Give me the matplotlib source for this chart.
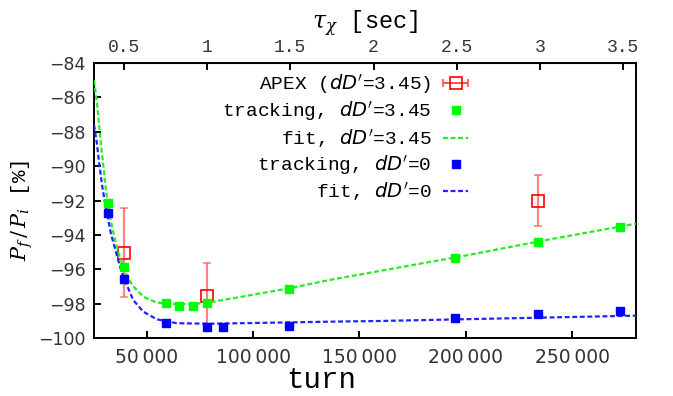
import numpy as np
import matplotlib
matplotlib.use("Agg")
import matplotlib.pyplot as plt
from matplotlib.ticker import FuncFormatter, FixedLocator
from matplotlib.legend_handler import HandlerErrorbar

# turns per second (top axis conversion)
TURNS_PER_SEC = 78300.0

# APEX measurement, dD'=3.45
apex_turn = np.array([39100, 78100, 233800])
apex_p = np.array([-95.03, -97.54, -92.01])
apex_err = np.array([2.6, 1.9, 1.5])

# tracking, dD'=3.45
trk345_turn = np.array([31800, 39100, 59000, 65100, 71700, 78100, 117000, 195100, 233800, 272700])
trk345_p = np.array([-92.13, -95.85, -97.98, -98.12, -98.12, -97.98, -97.15, -95.33, -94.40, -93.52])

# tracking, dD'=0
trk0_turn = np.array([31500, 39100, 59000, 78100, 85600, 117000, 195100, 233800, 272700])
trk0_p = np.array([-92.71, -96.55, -99.11, -99.38, -99.38, -99.30, -98.82, -98.62, -98.41])

# fit curves
fit345_turn = np.array([25100, 26500, 27600, 28500, 29700, 30700, 31800, 33000, 35000, 37000,
                        39100, 41000, 43600, 48300, 54600, 62000, 70000, 78000, 100000,
                        117300, 136100, 200000, 240000, 280100])
fit345_p = np.array([-85.0, -86.35, -87.7, -88.9, -90.2, -91.4, -92.3, -93.2, -94.3, -95.2,
                     -95.9, -96.5, -97.0, -97.6, -97.94, -98.02, -98.02, -97.96, -97.48,
                     -97.1, -96.62, -95.2, -94.25, -93.35])
fit0_turn = np.array([25100, 26500, 27600, 28900, 30200, 31500, 33000, 35000, 37000, 39100,
                      43600, 48300, 54600, 64000, 80000, 136100, 159600, 280100])
fit0_p = np.array([-87.6, -88.7, -89.9, -91.1, -92.1, -92.9, -93.9, -94.8, -95.7, -96.5,
                   -97.8, -98.47, -98.91, -99.14, -99.17, -99.05, -99.01, -98.70])

yticks = np.arange(-100, -83, 2)
xticks = [50000, 100000, 150000, 200000, 250000]
tau_ticks = [0.5, 1, 1.5, 2, 2.5, 3, 3.5]

MONO = "Liberation Mono"
tick_col = "#333333"

fig = plt.figure(figsize=(6.73, 3.96), dpi=100)
ax = fig.add_axes([94 / 673, 1 - 338 / 396, 542 / 673, 275 / 396])

apex = ax.errorbar(apex_turn, apex_p, yerr=apex_err, fmt="s", ms=8, mfc="none", mec="red",
                   mew=1.2, ecolor=(1, 0.35, 0.35, 0.75), elinewidth=1.6, capsize=3,
                   capthick=1.6, zorder=2)
apex_leg = ax.errorbar([np.nan], [np.nan], xerr=[1], fmt="s", ms=8, mfc="none", mec="red",
                       mew=1.2, ecolor=(1, 0.2, 0.2, 0.85), elinewidth=1.4, capsize=3,
                       capthick=1.4, label="APEX ($dD'$=3.45)")

f345, = ax.plot(fit345_turn, fit345_p, color="#22ee22", lw=1.6, dashes=(2.2, 1.2), zorder=3,
                label="fit, $dD'$=3.45")
f0, = ax.plot(fit0_turn, fit0_p, color="#2222ff", lw=1.6, dashes=(2.2, 1.2), zorder=3,
              label="fit, $dD'$=0")
t345, = ax.plot(trk345_turn, trk345_p, "s", color="#00ff00", ms=5.5, zorder=4,
                label="tracking, $dD'$=3.45")
t0, = ax.plot(trk0_turn, trk0_p, "s", color="#0000ff", ms=5.5, zorder=4,
              label="tracking, $dD'$=0")

ax.set_xlim(25100, 280100)
ax.set_ylim(-100, -84)
ax.set_yticks(yticks)
ax.set_xticks(xticks)
ax.xaxis.set_major_formatter(FuncFormatter(lambda v, p: f"{int(v):,}".replace(",", "\u2009")))
ax.yaxis.set_major_formatter(FuncFormatter(lambda v, p: f"\u2212{abs(int(v))}"))
ax.tick_params(axis="both", direction="in", length=5, width=1.4, colors="black",
               labelcolor=tick_col)
ax.tick_params(axis="x", labelsize=13.5, pad=7, top=False)
ax.tick_params(axis="y", labelsize=12.5, pad=6, right=False)
for s in ax.spines.values():
    s.set_linewidth(1.4)

ax.set_xlabel("turn", family=MONO, fontsize=21)
ax.xaxis.set_label_coords((321 - 94) / 542, -0.103)
ax.set_ylabel("$P_f\\,/\\,P_i$ [%]", family=MONO, fontsize=15, math_fontfamily="dejavuserif")
ax.yaxis.set_label_coords(-0.108, 0.465)

sec = ax.secondary_xaxis("top", functions=(lambda t: t / TURNS_PER_SEC,
                                           lambda s: s * TURNS_PER_SEC))
sec.xaxis.set_major_locator(FixedLocator(tau_ticks))
sec.xaxis.set_major_formatter(FuncFormatter(lambda v, p: f"{v:g}"))
sec.tick_params(direction="in", length=5, width=1.4, labelsize=13, pad=5, labelcolor=tick_col)
for lab in sec.get_xticklabels():
    lab.set_family(MONO)
sec.set_xlabel("$\\tau_\\chi$ [sec]", family=MONO, fontsize=17, labelpad=7,
               math_fontfamily="dejavuserif")

leg = ax.legend([apex_leg, t345, f345, t0, f0],
                [apex_leg.get_label(), t345.get_label(), f345.get_label(),
                 t0.get_label(), f0.get_label()],
                loc="upper right", bbox_to_anchor=(0.705, 0.995), borderaxespad=0,
                frameon=False, markerfirst=False, numpoints=1, handlelength=1.3,
                handletextpad=0.6, labelspacing=0.17, borderpad=0.4,
                prop={"family": MONO, "size": 14},
                handler_map={apex_leg: HandlerErrorbar(xerr_size=0.65)})

fig.savefig("out.png", dpi=100)
